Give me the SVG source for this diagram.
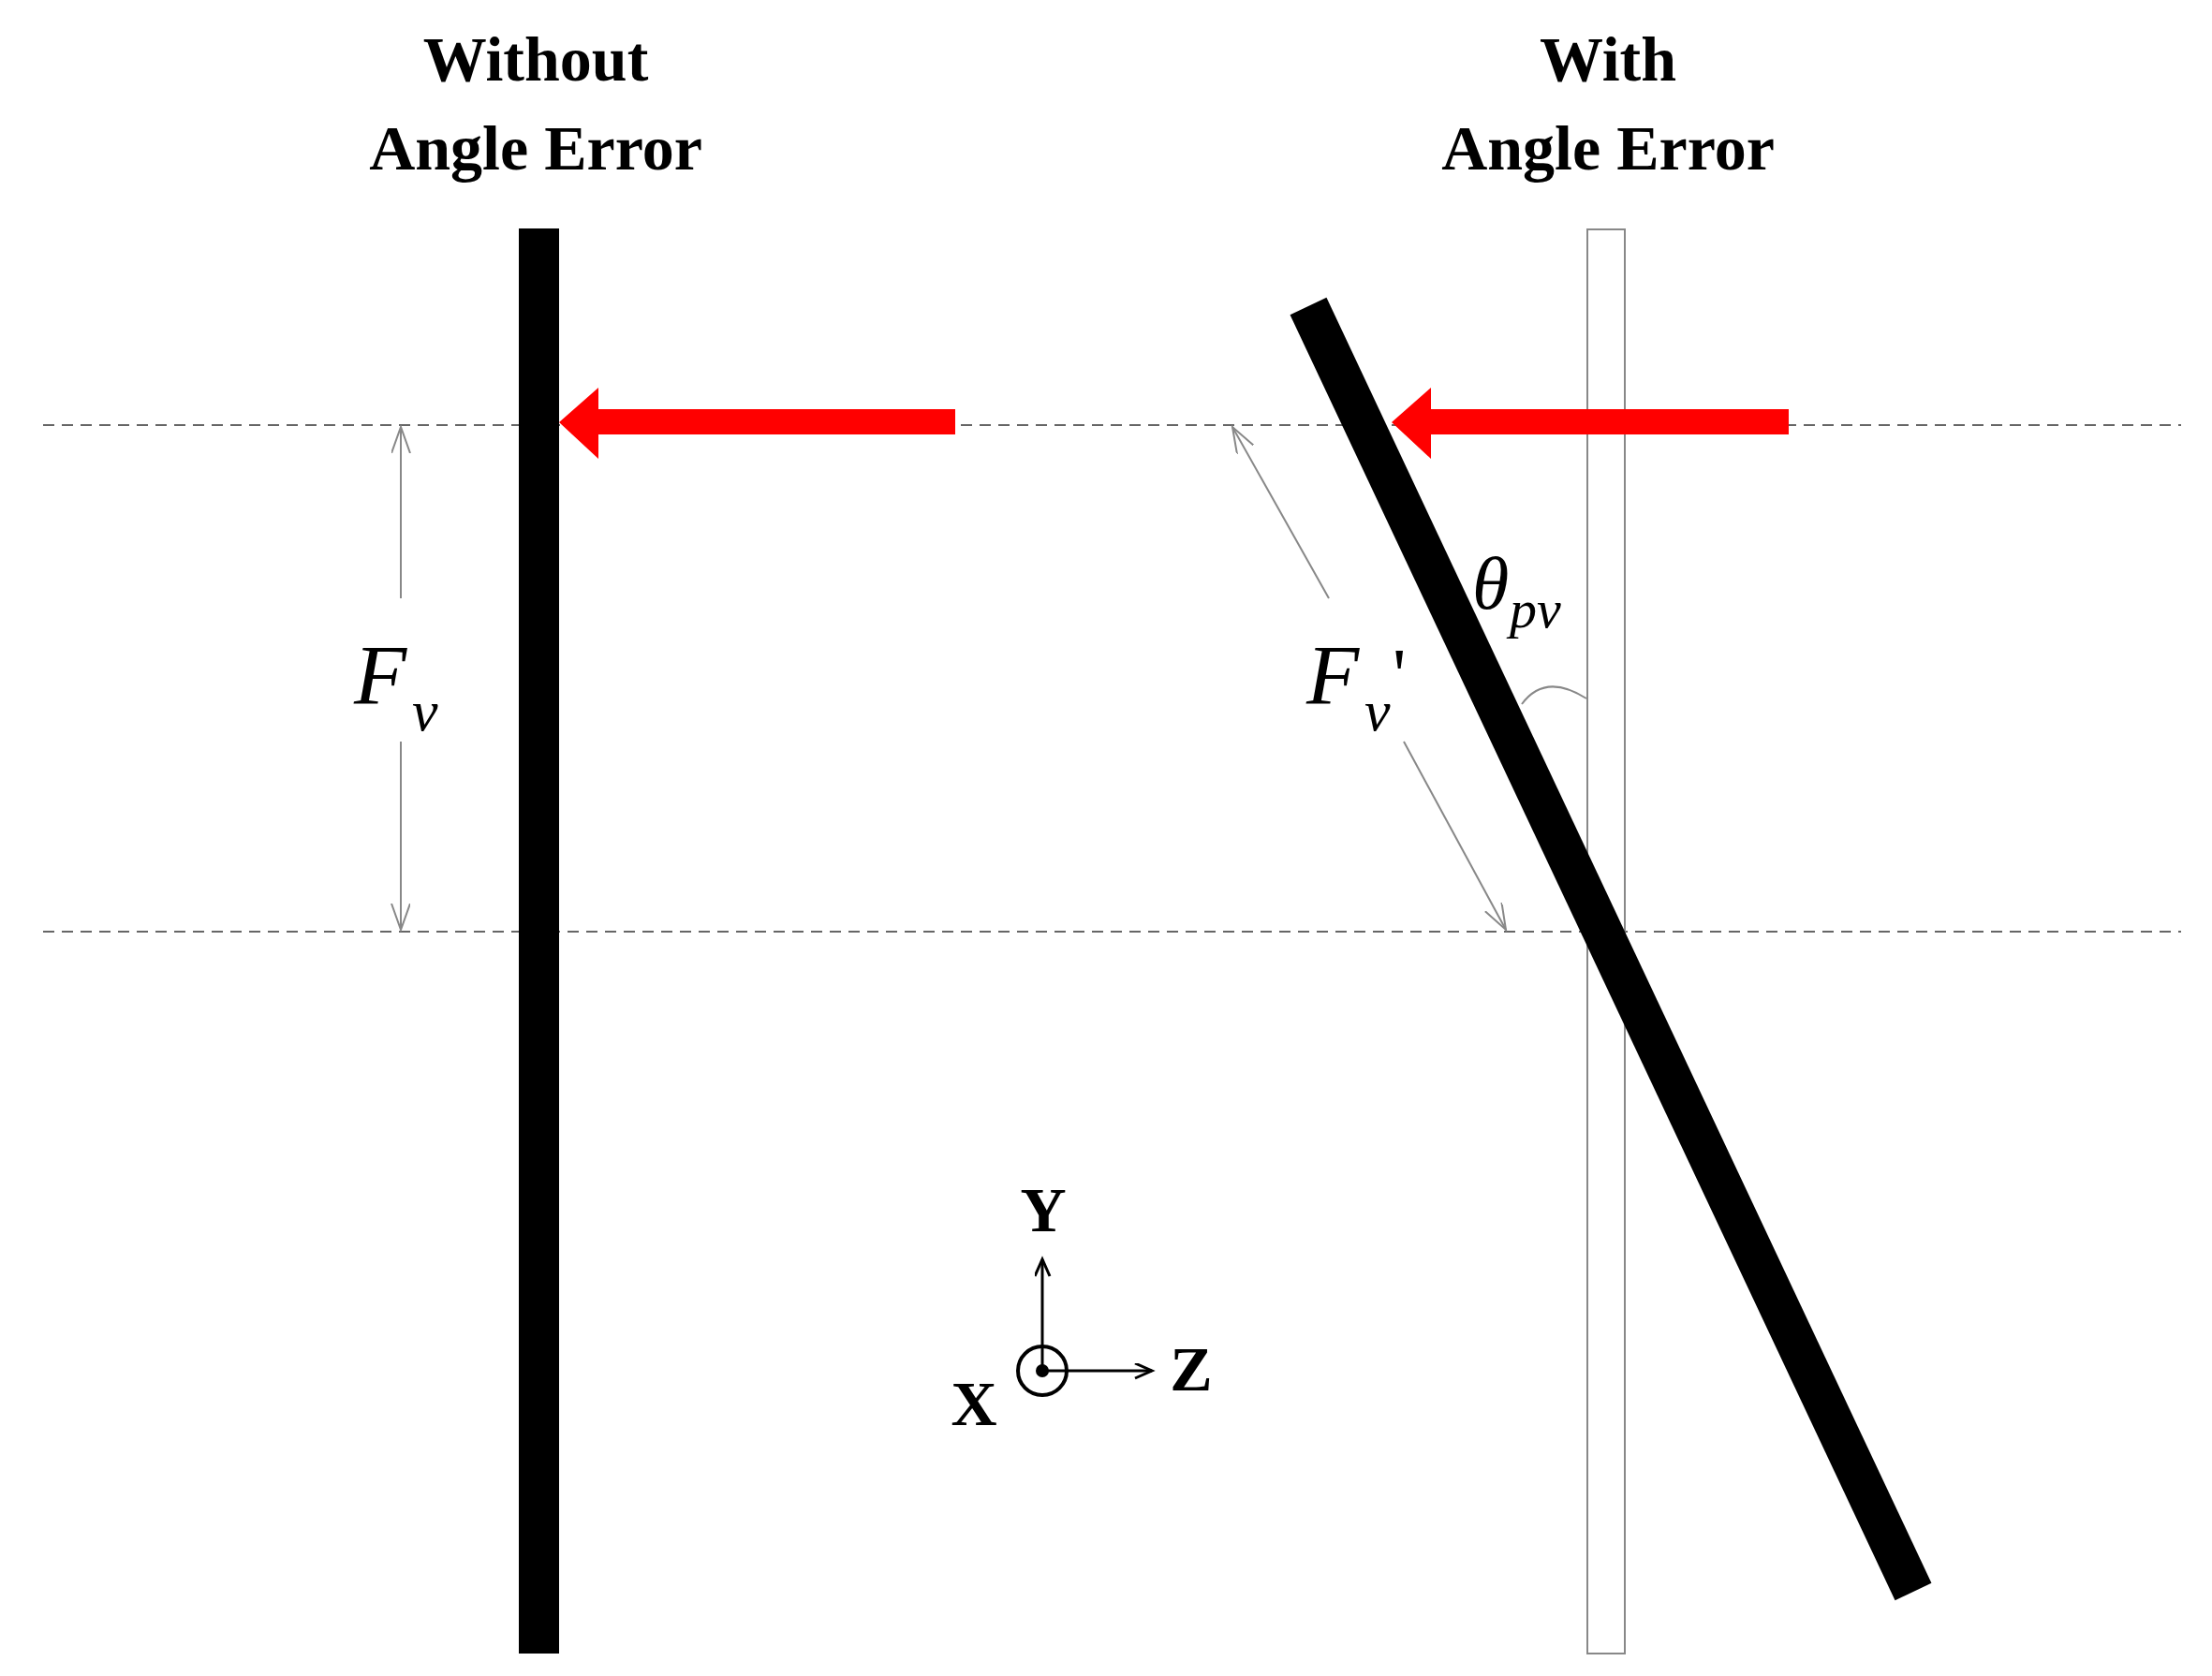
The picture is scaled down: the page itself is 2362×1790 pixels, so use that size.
<svg xmlns="http://www.w3.org/2000/svg" width="2362" height="1790" viewBox="0 0 2362 1790">
<style>
.t{font-family:"Liberation Serif",serif;font-weight:bold;font-size:68px;text-anchor:middle}
.m{font-family:"Liberation Serif",serif;font-style:italic}
.d{stroke:#666;stroke-width:2;stroke-dasharray:12 8;fill:none}
.g{stroke:#888;stroke-width:2;fill:none}
</style>
<defs>
<marker id="oa" markerWidth="30" markerHeight="30" refX="28" refY="10" orient="auto" markerUnits="userSpaceOnUse"><path d="M0,0 L28,10 L0,20" fill="none" stroke="#888" stroke-width="2"/></marker>
<marker id="ax" markerWidth="24" markerHeight="24" refX="20" refY="8" orient="auto" markerUnits="userSpaceOnUse"><path d="M2,0 L20,8 L2,16" fill="none" stroke="#000" stroke-width="3"/></marker>
</defs>
<rect width="2362" height="1790" fill="#fff"/>
<g id="titles">
<text class="t" x="572" y="86">Without</text>
<text class="t" x="572" y="181">Angle Error</text>
<text class="t" x="1717" y="86">With</text>
<text class="t" x="1717" y="181">Angle Error</text>
</g>
<g id="guides">
<line class="d" x1="46" y1="454" x2="2329" y2="454"/>
<line class="d" x1="46" y1="995" x2="2329" y2="995"/>
</g>
<g id="ref-bar"><rect x="1695" y="245" width="40" height="1521" fill="#fff" stroke="#888" stroke-width="2"/></g>
<g id="bar-left"><rect x="554" y="244" width="43" height="1522" fill="#000"/></g>
<g id="bar-tilted"><line x1="1397" y1="327" x2="2043" y2="1700" stroke="#000" stroke-width="43"/></g>
<g id="connectors">
<polygon points="597,451 639,414 639,437 1020,437 1020,464 639,464 639,490" fill="#f00"/>
<polygon points="1486,451 1528,414 1528,437 1910,437 1910,464 1528,464 1528,490" fill="#f00"/>
<line class="g" x1="428" y1="639" x2="428" y2="456" marker-end="url(#oa)"/>
<line class="g" x1="428" y1="792" x2="428" y2="993" marker-end="url(#oa)"/>
<line class="g" x1="1419" y1="639" x2="1316" y2="456" marker-end="url(#oa)"/>
<line class="g" x1="1499" y1="792" x2="1608" y2="993" marker-end="url(#oa)"/>
<path class="g" d="M1625,752 Q1650,718 1694,746"/>
</g>
<g id="labels">
<text class="m" x="378" y="752" font-size="92">F</text>
<text class="m" x="440" y="780" font-size="62">v</text>
<text class="m" x="1395" y="752" font-size="92">F</text>
<text class="m" x="1457" y="780" font-size="62">v</text>
<text x="1487" y="748" font-size="80" font-family="Liberation Serif,serif">'</text>
<text class="m" x="1572" y="650" font-size="80">θ</text>
<text class="m" x="1612" y="670" font-size="58">pv</text>
</g>
<g id="axes">
<line x1="1113" y1="1464" x2="1113" y2="1345" stroke="#000" stroke-width="3" marker-end="url(#ax)"/>
<line x1="1113" y1="1464" x2="1230" y2="1464" stroke="#000" stroke-width="3" marker-end="url(#ax)"/>
<circle cx="1113" cy="1464" r="26" fill="none" stroke="#000" stroke-width="4"/>
<circle cx="1113" cy="1464" r="7" fill="#000"/>
<text class="t" x="1114" y="1315" font-size="54">Y</text>
<text class="t" x="1272" y="1485" font-size="54">Z</text>
<text class="t" x="1040" y="1522" font-size="54">X</text>
</g>
</svg>
